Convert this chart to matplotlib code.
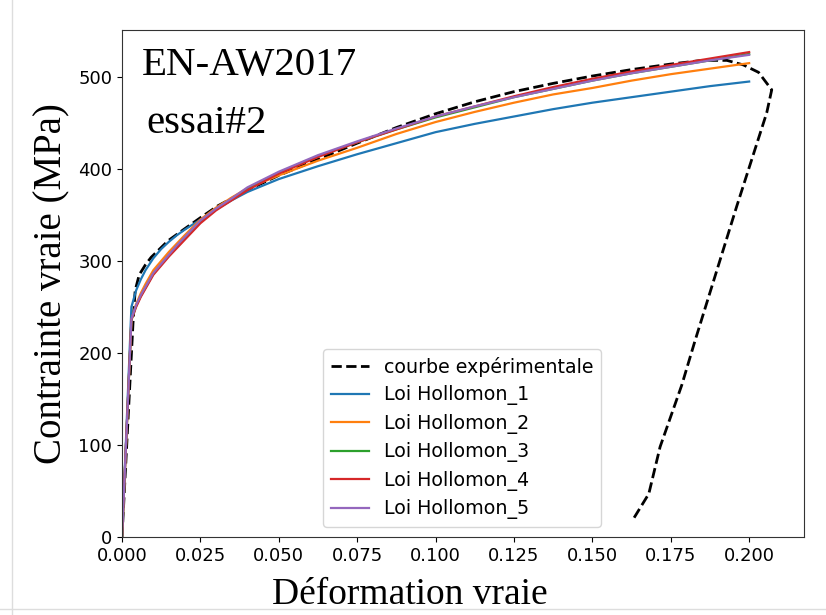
import matplotlib
matplotlib.use("Agg")
import matplotlib.pyplot as plt
from matplotlib.lines import Line2D

# experimental curve (true strain, true stress MPa)
exp_strain = [0.0, 0.0035, 0.0042, 0.0055, 0.0075, 0.0093, 0.0147, 0.020, 0.025, 0.0306,
              0.040, 0.050, 0.060, 0.075, 0.0875, 0.100, 0.1125, 0.125, 0.1375, 0.150,
              0.1625, 0.175, 0.185, 0.1929, 0.1982, 0.2030, 0.2072, 0.2056, 0.1960, 0.1828,
              0.1785, 0.1716, 0.168, 0.1626]
exp_stress = [0, 232, 268, 285, 296, 304, 322, 335, 347, 360,
              377, 393, 407, 428, 445, 460, 473, 484, 493, 501,
              508, 514, 518, 518, 513, 505, 486, 461, 359, 214,
              165, 98, 47, 17]

# Hollomon fits, all on the same strain points
strain = [0.0, 0.003, 0.0045, 0.006, 0.0075, 0.01, 0.0125, 0.015, 0.0175, 0.02,
          0.025, 0.03, 0.035, 0.04, 0.05, 0.0625, 0.075, 0.0875, 0.1, 0.1125,
          0.125, 0.1375, 0.15, 0.1625, 0.175, 0.1875, 0.2]
holl_1 = [0, 250, 268, 280, 290, 303, 313, 321, 328, 334,
          345, 356, 366, 375, 389, 403, 416, 428, 440, 449,
          457, 465, 472, 478, 484, 490, 495]
holl_2 = [0, 236, 253, 265, 275, 290, 300, 310, 319, 328,
          345, 358, 369, 379, 393, 409, 423, 438, 451, 462,
          472, 481, 488, 496, 503, 509, 515]
holl_3 = [0, 236, 251, 262, 271, 286, 296, 306, 315, 324,
          342, 356, 367, 378, 396, 414, 429, 443, 456, 467,
          478, 487, 496, 504, 511, 518, 525]
holl_4 = [0, 236, 250, 261, 270, 285, 295, 305, 314, 323,
          341, 355, 366, 377, 395, 413, 429, 443, 457, 468,
          479, 489, 498, 506, 513, 520, 527]
holl_5 = [0, 237, 252, 263, 272, 287, 297, 307, 317, 326,
          344, 357, 368, 380, 397, 415, 430, 444, 457, 468,
          478, 487, 496, 504, 511, 518, 524]

fits = [holl_1, holl_2, holl_3, holl_4, holl_5]
colors = ['#1f77b4', '#ff7f0e', '#2ca02c', '#d62728', '#9467bd']

fig = plt.figure(figsize=(8.26, 6.15), dpi=100)
ax = fig.add_axes([0.1477, 0.1268, 0.8257, 0.8244])

ax.plot(exp_strain, exp_stress, 'k--', lw=2, label='courbe expérimentale')
for i, (vals, c) in enumerate(zip(fits, colors)):
    ax.plot(strain, vals, color=c, lw=1.6, label=f'Loi Hollomon_{i+1}')

ax.set_xlim(0, 0.2175)
ax.set_ylim(0, 551)
ax.set_xticks([0.0, 0.025, 0.05, 0.075, 0.1, 0.125, 0.15, 0.175, 0.2])
ax.set_xticklabels(['0.000', '0.025', '0.050', '0.075', '0.100', '0.125', '0.150', '0.175', '0.200'])
ax.set_yticks([0, 100, 200, 300, 400, 500])
ax.tick_params(labelsize=13)
for s in ax.spines.values():
    s.set_color('#333333')

ax.set_xlabel('Déformation vraie', fontsize=27, family='Liberation Serif', labelpad=9)
ax.xaxis.label.set_x(0.422)
ax.set_ylabel('Contrainte vraie (MPa)', fontsize=28, family='Liberation Serif', labelpad=6)

fig.text(142 / 826, 1 - 75 / 615, 'EN-AW2017', fontsize=29.5, family='Liberation Serif', va='baseline')
fig.text(146 / 826, 1 - 133 / 615, 'essai#2', fontsize=29.5, family='Liberation Serif', va='baseline')

ax.legend(loc='lower left', bbox_to_anchor=(0.2947, 0.0197), borderaxespad=0,
          fontsize=13.7, labelspacing=0.45, handlelength=2.0)

# screenshot border lines
fig.add_artist(Line2D([12 / 826, 12 / 826], [0, 1], color='#dddddd', lw=1))
fig.add_artist(Line2D([0, 1], [1 - 609 / 615, 1 - 609 / 615], color='#dddddd', lw=1))

fig.savefig('out.png', dpi=100)
